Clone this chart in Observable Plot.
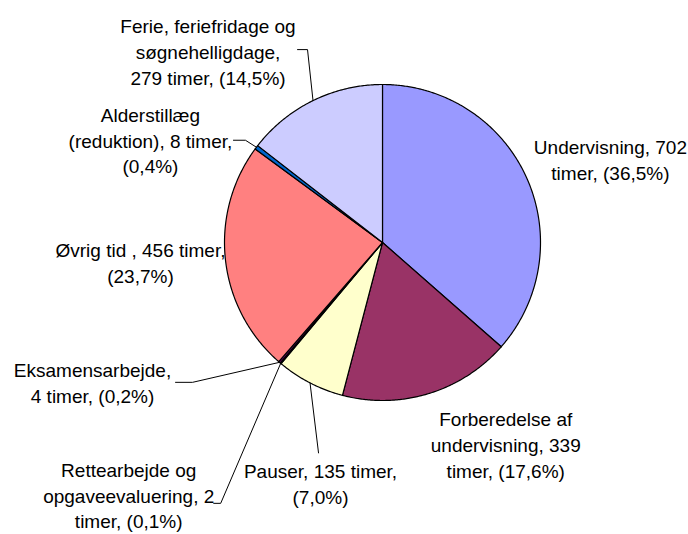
<!DOCTYPE html>
<html>
<head>
<meta charset="utf-8">
<script src="https://cdn.jsdelivr.net/npm/d3@7"></script>
<script src="https://cdn.jsdelivr.net/npm/@observablehq/plot@0.6"></script>
<style>
  html, body { margin: 0; padding: 0; background: #ffffff; }
  #chart { width: 688px; height: 534px; }
</style>
</head>
<body>
<div id="chart"></div>
<script>
// ---- Data ----
const categories = [
  "Undervisning",
  "Forberedelse af undervisning",
  "Pauser",
  "Rettearbejde og opgaveevaluering",
  "Eksamensarbejde",
  "Øvrig tid",
  "Alderstillæg (reduktion)",
  "Ferie, feriefridage og søgnehelligdage"
];
const hours = [702, 339, 135, 2, 4, 456, 8, 279];
const percents = ["36,5", "17,6", "7,0", "0,1", "0,2", "23,7", "0,4", "14,5"];
const labelTexts = [
  "Undervisning, 702\ntimer, (36,5%)",
  "Forberedelse af\nundervisning, 339\ntimer, (17,6%)",
  "Pauser, 135 timer,\n(7,0%)",
  "Rettearbejde og\nopgaveevaluering, 2\ntimer, (0,1%)",
  "Eksamensarbejde,\n4 timer, (0,2%)",
  "Øvrig tid , 456 timer,\n(23,7%)",
  "Alderstillæg\n(reduktion), 8 timer,\n(0,4%)",
  "Ferie, feriefridage og\nsøgnehelligdage,\n279 timer, (14,5%)"
];

// ---- Styles / layout (not data) ----
const colors = ["#9999FF", "#993366", "#FFFFCC", "#CCFFFF", "#660066", "#FF8080", "#0066CC", "#CCCCFF"];
const R = 158; // pixels per unit radius
// label block centre offsets from slice edge point (px, y down)
const labelOffsets = [[84, -19], [77, 50], [10.5, 100], [-152, 131], [-187, 19.5], [-85, 1.5], [-106, -8], [-105, -50]];
// leader line bend points relative to slice edge point (px, y down)
const leaderOffsets = [null, null, [[8.5, 70]], [[-60, 140], [-67, 140]], [[-87, 20], [-104, 20]], null, [[-11, -7], [-23, -7]], [[-5.5, -51], [-15.5, -51]]];

// ---- Geometry computed from values ----
const total = d3.sum(hours);
let acc = 0;
const slices = hours.map((h, i) => {
  const a0 = acc / total * 2 * Math.PI;
  acc += h;
  const a1 = acc / total * 2 * Math.PI;
  return {name: categories[i], value: h, a0, a1, mid: (a0 + a1) / 2, i};
});

const slicePts = [];
for (const s of slices) {
  slicePts.push({name: s.name, x: 0, y: 0});
  const n = Math.max(2, Math.ceil((s.a1 - s.a0) / (Math.PI / 360)));
  for (let k = 0; k <= n; k++) {
    const a = s.a0 + (s.a1 - s.a0) * k / n;
    slicePts.push({name: s.name, x: Math.sin(a), y: Math.cos(a)});
  }
  slicePts.push({name: s.name, x: 0, y: 0});
}

const labels = slices.map(s => {
  const ex = Math.sin(s.mid), ey = Math.cos(s.mid);
  const [dx, dy] = labelOffsets[s.i];
  return {text: labelTexts[s.i], x: ex + dx / R, y: ey - dy / R};
});

const leaderPts = [];
for (const s of slices) {
  const off = leaderOffsets[s.i];
  if (!off) continue;
  const ex = Math.sin(s.mid), ey = Math.cos(s.mid);
  leaderPts.push({name: s.name, x: ex, y: ey});
  for (const [dx, dy] of off) leaderPts.push({name: s.name, x: ex + dx / R, y: ey - dy / R});
}

const chart = Plot.plot({
  width: 688,
  height: 534,
  marginLeft: 224,
  marginRight: 148,
  marginTop: 84,
  marginBottom: 134,
  x: {domain: [-1, 1], axis: null},
  y: {domain: [-1, 1], axis: null},
  color: {domain: categories, range: colors},
  style: {background: "#ffffff", overflow: "visible", fontFamily: "'Liberation Sans', Arial, sans-serif"},
  marks: [
    Plot.line(slicePts, {x: "x", y: "y", z: "name", fill: "name", stroke: "#000000", strokeWidth: 1.2, strokeLinejoin: "round", curve: "linear"}),
    Plot.line(leaderPts, {x: "x", y: "y", z: "name", stroke: "#000000", strokeWidth: 1, curve: "linear"}),
    Plot.text(labels, {x: "x", y: "y", text: "text", fontSize: 19, lineHeight: 1.36, textAnchor: "middle", lineAnchor: "middle", fill: "#000000"})
  ]
});
document.getElementById("chart").appendChild(chart);
</script>
</body>
</html>
